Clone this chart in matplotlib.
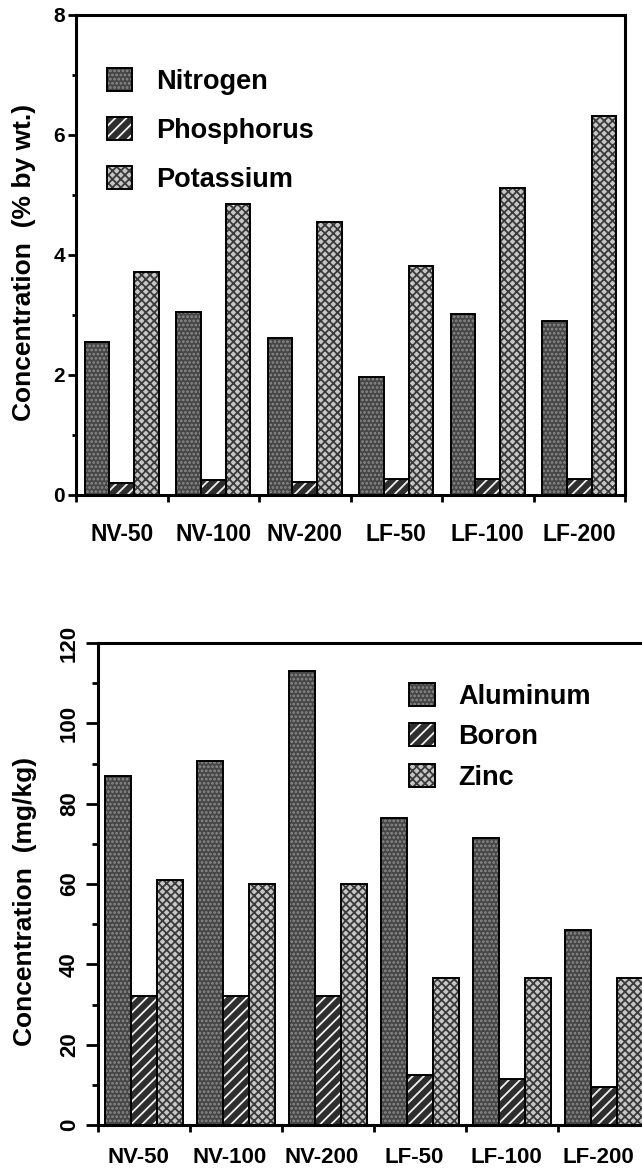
import matplotlib
matplotlib.use("Agg")
import matplotlib.pyplot as plt
import matplotlib.transforms as mtransforms
import numpy as np
from matplotlib.patches import Patch

plt.rcParams['font.family'] = ['Liberation Sans', 'DejaVu Sans']
plt.rcParams['font.weight'] = 'bold'
plt.rcParams['hatch.linewidth'] = 1.3

# ---------------- data ----------------
categories = ["NV-50", "NV-100", "NV-200", "LF-50", "LF-100", "LF-200"]

top_series = ["Nitrogen", "Phosphorus", "Potassium"]
nitrogen = [2.55, 3.05, 2.62, 1.97, 3.02, 2.90]
phosphorus = [0.20, 0.25, 0.22, 0.27, 0.27, 0.27]
potassium = [3.72, 4.85, 4.55, 3.82, 5.12, 6.32]
top_yticks = [0, 2, 4, 6, 8]
top_yminor = [1, 3, 5, 7]

bot_series = ["Aluminum", "Boron", "Zinc"]
aluminum = [87, 90.5, 113, 76.5, 71.5, 48.5]
boron = [32, 32, 32, 12.5, 11.5, 9.5]
zinc = [61, 60, 60, 36.5, 36.5, 36.5]
bot_yticks = [0, 20, 40, 60, 80, 100, 120]
bot_yminor = [10, 30, 50, 70, 90, 110]

# ---------------- styles ----------------
styles = [
    dict(face="#464646", hcol="#8c8c8c", hatch="...."),   # stippled dark
    dict(face="#2e2e2e", hcol="#f0f0f0", hatch="///"),    # diagonal stripes
    dict(face="#c6c6c6", hcol="#3a3a3a", hatch="xxxx"),   # checker
]

W, H = 642, 1169
fig = plt.figure(figsize=(W / 100, H / 100), dpi=100)


def px_axes(left, top, right, bottom):
    return fig.add_axes([left / W, 1 - bottom / H, (right - left) / W, (bottom - top) / H])


def draw_bars(ax, series_vals, width):
    x = np.arange(len(categories))
    offs = [-width, 0, width]
    for vals, st, off in zip(series_vals, styles, offs):
        ax.bar(x + off, vals, width, color=st["face"], edgecolor=st["hcol"],
               hatch=st["hatch"], linewidth=0, zorder=2)
        ax.bar(x + off, vals, width, fill=False, edgecolor="black",
               linewidth=1.4, zorder=3)


def handles(names):
    hs = []
    for n, st in zip(names, styles):
        fill = Patch(facecolor=st["face"], edgecolor=st["hcol"], hatch=st["hatch"],
                     linewidth=0)
        edge = Patch(fill=False, edgecolor="black", linewidth=1.4)
        hs.append((fill, edge))
    return hs


def style_axes(ax):
    for s in ax.spines.values():
        s.set_linewidth(2.2)
    n = len(categories)
    ax.set_xlim(-0.5, n - 0.5)
    ax.set_xticks(np.arange(n + 1) - 0.5)
    ax.set_xticklabels([])
    ax.set_xticks(np.arange(n), minor=True)
    ax.tick_params(axis="x", which="major", direction="out", length=5, width=2)


legend_kw = dict(frameon=False,
                 prop=dict(family="Liberation Sans", weight="bold", size=19.5),
                 handlelength=0.93, handleheight=0.93, handletextpad=0.89,
                 borderpad=0, borderaxespad=0, loc="upper left")

# ---------------- top chart ----------------
ax1 = px_axes(76, 15, 625, 495)
draw_bars(ax1, [nitrogen, phosphorus, potassium], 0.27)
style_axes(ax1)
ax1.set_xticklabels(categories, minor=True, fontsize=16.5, fontweight="bold")
ax1.tick_params(axis="x", which="minor", length=0, pad=20)
ax1.set_ylim(0, 8)
ax1.set_yticks(top_yticks)
ax1.set_yticklabels([str(t) for t in top_yticks], fontsize=15, fontweight="bold")
ax1.set_yticks(top_yminor, minor=True)
ax1.tick_params(axis="y", which="major", direction="out", length=6, width=2, pad=2)
ax1.tick_params(axis="y", which="minor", direction="out", length=3, width=2)
ax1.set_ylabel("Concentration  (% by wt.)", fontsize=19, fontweight="bold")
ax1.yaxis.set_label_coords(-0.072, 0.485)
ax1.legend(handles=handles(top_series), labels=top_series,
           bbox_to_anchor=(0.0565, 0.89), labelspacing=0.82, **legend_kw)

# ---------------- bottom chart ----------------
ax2 = px_axes(98, 643, 650, 1125)
draw_bars(ax2, [aluminum, boron, zinc], 0.28)
style_axes(ax2)
ax2.set_xticklabels(categories, minor=True, fontsize=16, fontweight="bold")
ax2.tick_params(axis="x", which="minor", length=0, pad=15.5)
shift = mtransforms.ScaledTranslation(-6 / 100, 0, fig.dpi_scale_trans)
for lab in ax2.xaxis.get_minorticklabels():
    lab.set_transform(lab.get_transform() + shift)
ax2.set_ylim(0, 120)
ax2.set_yticks(bot_yticks)
ax2.set_yticklabels([str(t) for t in bot_yticks], fontsize=16, fontweight="bold",
                    rotation=90, va="center")
ax2.set_yticks(bot_yminor, minor=True)
ax2.tick_params(axis="y", which="major", direction="out", length=9, width=2, pad=4)
ax2.tick_params(axis="y", which="minor", direction="out", length=4, width=2)
ax2.set_ylabel("Concentration  (mg/kg)", fontsize=19, fontweight="bold")
ax2.yaxis.set_label_coords(-0.11, 0.463)
ax2.legend(handles=handles(bot_series), labels=bot_series,
           bbox_to_anchor=(0.564, 0.917), labelspacing=0.5, **legend_kw)

fig.savefig("out.png", dpi=100)
